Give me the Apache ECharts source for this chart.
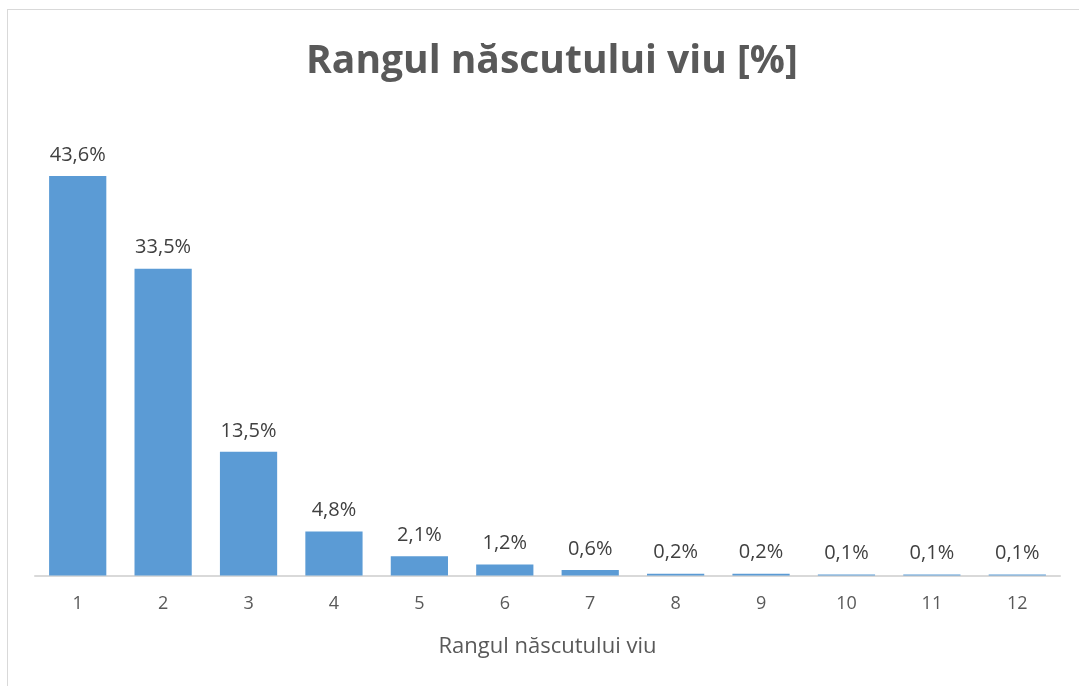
<!DOCTYPE html>
<html>
<head>
<meta charset="utf-8">
<script src="https://cdn.jsdelivr.net/npm/echarts@6/dist/echarts.min.js"></script>
<style>
html,body{margin:0;padding:0;background:#fff;}
#frame{position:absolute;left:7px;top:9px;width:1090px;height:700px;border:1px solid #d9d9d9;box-sizing:border-box;}
#chart{position:absolute;left:0;top:0;width:1079px;height:686px;}
</style>
</head>
<body>
<div id="frame"></div>
<div id="chart"></div>
<script>
const categories = ['1','2','3','4','5','6','7','8','9','10','11','12'];
const values = [43.6, 33.5, 13.5, 4.8, 2.1, 1.2, 0.6, 0.2, 0.2, 0.1, 0.1, 0.1];
const titleText = 'Rangul născutului viu [%]';
const xAxisTitle = 'Rangul născutului viu';

const chart = echarts.init(document.getElementById('chart'));
const font = '"Open Sans", "Noto Sans", sans-serif';
chart.setOption({
  animation: false,
  title: {
    text: titleText,
    left: 547, top: 37,
    textAlign: 'center',
    textStyle: { fontFamily: font, fontSize: 39, fontWeight: 'bold', color: '#595959' }
  },
  grid: { left: 35, right: 19, top: 117.5, bottom: 686 - 575.5, containLabel: false },
  xAxis: {
    type: 'category',
    data: categories,
    name: xAxisTitle,
    nameLocation: 'middle',
    nameGap: 60,
    nameTextStyle: { fontFamily: font, fontSize: 22, color: '#595959' },
    axisLine: { lineStyle: { color: '#d9d9d9', width: 2 } },
    axisTick: { show: false },
    axisLabel: { fontFamily: font, fontSize: 18, color: '#595959', margin: 19 }
  },
  yAxis: {
    type: 'value', min: 0, max: 50,
    show: false,
    splitLine: { show: false }
  },
  series: [{
    type: 'bar',
    data: values,
    barCategoryGap: '33%',
    itemStyle: { color: '#5b9bd5' },
    label: {
      show: true, position: 'top', distance: 11,
      fontFamily: font, fontSize: 20, color: '#404040',
      formatter: p => p.value.toFixed(1).replace('.', ',') + '%'
    }
  }]
});
</script>
</body>
</html>
